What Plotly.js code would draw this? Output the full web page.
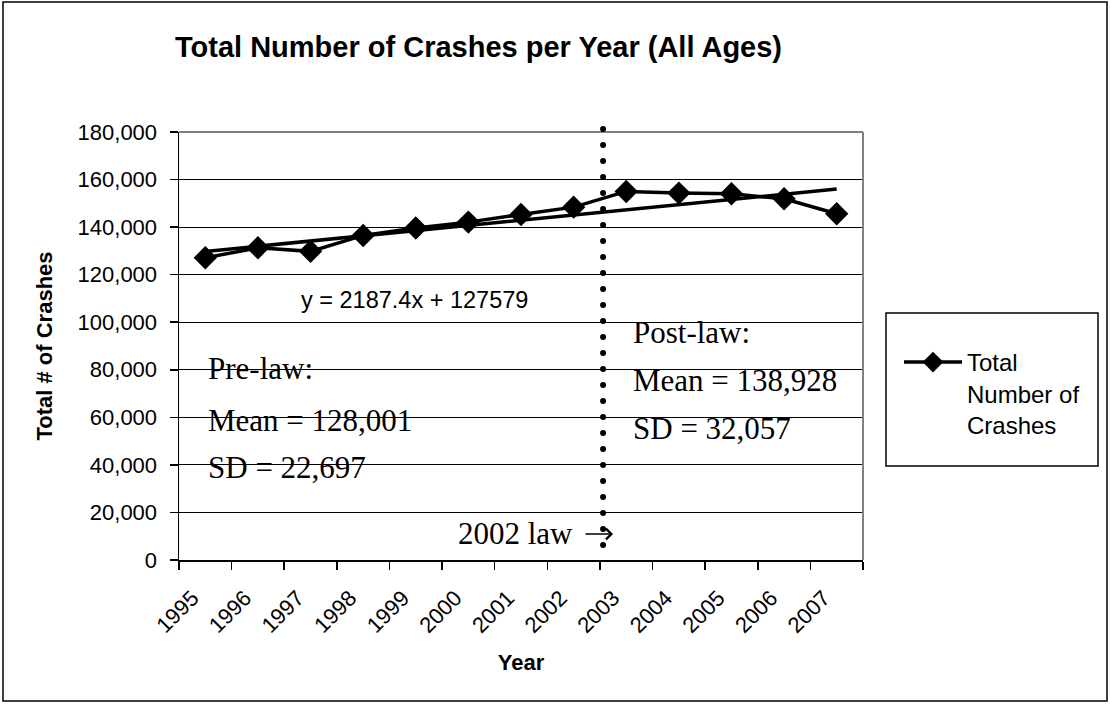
<!DOCTYPE html>
<html>
<head>
<meta charset="utf-8">
<script src="https://cdn.plot.ly/plotly-3.0.1.min.js"></script>
<style>
  html, body { margin: 0; padding: 0; background: #fff; }
  #chart { width: 1110px; height: 704px; }
</style>
</head>
<body>
<div id="chart"></div>
<script>
// ---- Data ----
const years = ['1995','1996','1997','1998','1999','2000','2001','2002','2003','2004','2005','2006','2007'];
const crashes = [127100, 131300, 129800, 136500, 139600, 142100, 145300, 148400, 155000, 154300, 154000, 151900, 145600];
// Linear trendline y = 2187.4x + 127579 (x = 1..13), endpoints
const trendYears = ['1995', '2007'];
const trendValues = [129766.4, 156015.2];
const seriesName = 'Total<br>Number of<br>Crashes';
const equationText = 'y = 2187.4x + 127579';
const preLawText = ['Pre-law:', 'Mean = 128,001', 'SD = 22,697'];
const postLawText = ['Post-law:', 'Mean = 138,928', 'SD = 32,057'];
const lawText = '2002 law';

// ---- Layout geometry (pixels) ----
const W = 1110, H = 704;
const L = 179, R = 863, T = 132, B = 560;
const pw = R - L, ph = B - T;
const px = x => (x - L) / pw;
const py = y => (B - y) / ph;

const sans = 'Liberation Sans, Arial, sans-serif';
const serif = 'Liberation Serif, Times New Roman, serif';

const traces = [
  {
    x: years, y: crashes, type: 'scatter', mode: 'lines+markers',
    name: seriesName,
    line: { color: '#000', width: 3.5 },
    marker: { symbol: 'diamond', size: 18, color: '#000' }
  },
  {
    x: trendYears, y: trendValues, type: 'scatter', mode: 'lines',
    showlegend: false, hoverinfo: 'skip',
    line: { color: '#000', width: 3.5 }
  }
];

function ann(text, x, y, size, family, anchor) {
  return { text: text, xref: 'paper', yref: 'paper', x: x, y: y,
           xanchor: anchor || 'left', yanchor: 'middle', showarrow: false,
           font: { family: family, size: size, color: '#000' } };
}

const annotations = [
  ann(equationText, px(299), py(300), 23.5, sans),
  ann(preLawText[0], px(206), py(368), 31, serif),
  ann(preLawText[1], px(206), py(420), 31, serif),
  ann(preLawText[2], px(206), py(467), 31, serif),
  ann(postLawText[0], px(631), py(332), 31, serif),
  ann(postLawText[1], px(631), py(380), 31, serif),
  ann(postLawText[2], px(631), py(428), 31, serif),
  ann(lawText, px(456), py(533), 31, serif),
  // the "→" after "2002 law"
  { text: '', xref: 'paper', yref: 'paper', x: px(613), y: py(534),
    axref: 'pixel', ayref: 'pixel', ax: -29, ay: 0,
    showarrow: true, arrowhead: 4, arrowsize: 1.6, arrowwidth: 1.3, arrowcolor: '#000',
    standoff: 0, startstandoff: 0 }
];

const shapes = [
  // outer chart border
  { type: 'rect', xref: 'paper', yref: 'paper', x0: px(3), x1: px(1107), y0: py(701), y1: py(2),
    line: { color: '#000', width: 1.5 }, fillcolor: 'rgba(0,0,0,0)', layer: 'below' },
  // plot area top/right border (gray)
  { type: 'line', xref: 'paper', yref: 'paper', x0: 0, x1: 1, y0: 1, y1: 1, line: { color: '#808080', width: 2 } },
  { type: 'line', xref: 'paper', yref: 'paper', x0: 1, x1: 1, y0: 0, y1: 1, line: { color: '#808080', width: 2 } },
  // legend box
  { type: 'rect', xref: 'paper', yref: 'paper', x0: px(886), x1: px(1098), y0: py(466), y1: py(313),
    line: { color: '#000', width: 1.5 }, fillcolor: 'rgba(0,0,0,0)' },
  // 2002 law dotted line
  { type: 'line', xref: 'x', yref: 'paper', x0: 7.56, x1: 7.56, y0: py(545), y1: py(123),
    line: { color: '#000', width: 6, dash: '0.1px,15.9px' } }
];

const layout = {
  width: W, height: H,
  paper_bgcolor: '#fff', plot_bgcolor: '#fff',
  margin: { l: L, r: W - R, t: T, b: H - B, pad: 0, autoexpand: false },
  font: { family: sans, color: '#000', size: 22 },
  title: {
    text: '<b>Total Number of Crashes per Year (All Ages)</b>',
    font: { family: sans, size: 29, color: '#000' },
    x: 175 / W, xanchor: 'left', xref: 'container',
    y: 1 - 47 / H, yanchor: 'middle', yref: 'container'
  },
  xaxis: {
    type: 'category', tickson: 'boundaries',
    range: [-0.5, 12.5],
    showline: true, linecolor: '#000', linewidth: 1.5,
    ticks: 'outside', ticklen: 8, tickcolor: '#000', tickwidth: 1.5,
    tickangle: -45, tickfont: { family: sans, size: 22, color: '#000' },
    ticklabelshift: -13, ticklabelstandoff: 15,
    showgrid: false, zeroline: false, automargin: false,
    title: { text: '<b>Year</b>', font: { family: sans, size: 22, color: '#000' }, standoff: 18 }
  },
  yaxis: {
    range: [0, 180000], dtick: 20000, tick0: 0, tickformat: ',d',
    showline: true, linecolor: '#000', linewidth: 1.5,
    ticks: 'outside', ticklen: 8, tickcolor: '#000', tickwidth: 1.5,
    tickfont: { family: sans, size: 22, color: '#000' },
    ticklabelstandoff: 8,
    showgrid: true, gridcolor: '#000', gridwidth: 1, zeroline: false, automargin: false,
    title: { text: '<b>Total # of Crashes</b>', font: { family: sans, size: 22, color: '#000' }, standoff: 19 }
  },
  legend: {
    x: px(899), y: py(340), xanchor: 'left', yanchor: 'top',
    bgcolor: 'rgba(0,0,0,0)', borderwidth: 0,
    font: { family: sans, size: 24, color: '#000' },
    valign: 'top', itemwidth: 58
  },
  showlegend: true,
  annotations: annotations,
  shapes: shapes
};

Plotly.newPlot('chart', traces, layout, { displayModeBar: false, staticPlot: true }).then(function () {
  // round the dots of the dotted "2002 law" line
  document.querySelectorAll('#chart .shapelayer path').forEach(function (p) {
    const da = p.style.strokeDasharray || p.getAttribute('stroke-dasharray') || '';
    if (da.indexOf('15.9') >= 0) {
      p.style.strokeLinecap = 'round';
    }
  });
});
</script>
</body>
</html>
